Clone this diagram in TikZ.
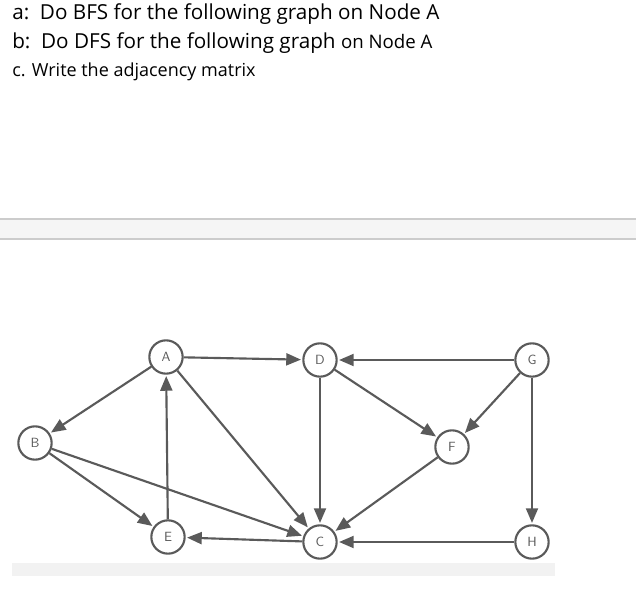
\documentclass[tikz,border=0pt]{standalone}
\usepackage{fontspec}
\setmainfont{Open Sans}
\usetikzlibrary{arrows.meta}
\definecolor{eg}{HTML}{5A5A5A}
\begin{document}
\begin{tikzpicture}[x=0.75pt,y=-0.75pt,
  vert/.style={circle,draw=eg,line width=1.6pt,fill=white,minimum size=25pt,inner sep=0pt,font=\sffamily,text=eg},
  edge/.style={draw=eg,line width=1.6pt,-{Triangle[length=11pt,width=9pt]},shorten >=1pt},
  qtext/.style={anchor=west,inner sep=0pt,font=\fontsize{15.5}{18}\selectfont}]
\useasboundingbox (0,0) rectangle (636,589);
\node[qtext] (qa) at (12,14) {a:\ \ Do BFS for the following graph on Node A};
\node[qtext] (qb) at (12,43) {b:\ \ Do DFS for the following graph {\fontsize{14}{16}\selectfont on Node A}};
\node[qtext,font=\fontsize{13.5}{16}\selectfont] (qc) at (12,72) {c. Write the adjacency matrix};
\fill[black!4] (0,219) rectangle (636,239);
\draw[black!20,line width=0.8pt] (0,219) -- (636,219) (0,239) -- (636,239);
\fill[black!5] (12,563) rectangle (555,576);
\node[vert] (A) at (166,357) {A};
\node[vert] (D) at (320,360) {D};
\node[vert] (G) at (532,360) {G};
\node[vert] (B) at (35,443) {B};
\node[vert] (F) at (452,447) {F};
\node[vert] (E) at (168,537) {E};
\node[vert] (C) at (320,542) {C};
\node[vert] (H) at (532,542) {H};
\draw[edge] (A) -- (D);
\draw[edge] (A) -- (B);
\draw[edge] (A) -- (C);
\draw[edge] (E) -- (A);
\draw[edge] (B) -- (E);
\draw[edge] (B) -- (C);
\draw[edge] (C) -- (E);
\draw[edge] (D) -- (C);
\draw[edge] (D) -- (F);
\draw[edge] (G) -- (D);
\draw[edge] (G) -- (F);
\draw[edge] (G) -- (H);
\draw[edge] (F) -- (C);
\draw[edge] (H) -- (C);
\end{tikzpicture}
\end{document}
